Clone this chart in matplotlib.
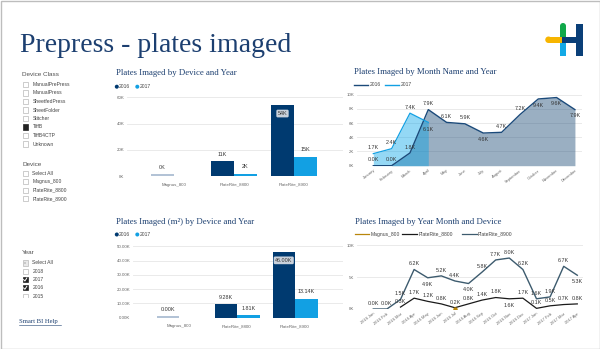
import matplotlib
matplotlib.use('Agg')
import matplotlib.pyplot as plt
from matplotlib.patches import Rectangle, Circle
import numpy as np

W, H = 600, 349

# ---------------- data ----------------
device_classes = ["ManualPrePress", "ManualPress", "SheetfedPress", "SheetFolder",
                  "Stitcher", "TiffB", "TiffB4CTP", "Unknown"]
device_slicer = ["Select All", "Magnus_800", "PlateRite_8800", "PlateRite_8900"]
year_slicer = ["Select All", "2018", "2017", "2016", "2015"]

devices = ["Magnus_800", "PlateRite_8800", "PlateRite_8900"]
plates_2016 = [0.0, 11.4, 54.0]            # thousands
plates_2017 = [0.0, 2.0, 15.0]
plates_2016_all_classes = [1.5, 11.4, 54.0]
plates_m2_2016 = [0.0, 9.28, 46.00]        # thousands m2
plates_m2_2017 = [0.0, 1.81, 13.14]
plates_m2_2016_all_classes = [1.2, 9.28, 46.00]

months = ["January", "February", "March", "April", "May", "June", "July",
          "August", "September", "October", "November", "December"]
month_2016 = [0.0, 0.0, 1.8, 7.9, 6.1, 5.9, 4.6, 4.7, 7.2, 9.4, 9.6, 7.9]
month_2017 = [1.7, 2.4, 7.4, 6.1]

year_months = ["2016 Jan", "2016 Feb", "2016 Mar", "2016 Apr", "2016 May", "2016 Jun",
               "2016 Jul", "2016 Aug", "2016 Sep", "2016 Oct", "2016 Nov", "2016 Dec",
               "2017 Jan", "2017 Feb", "2017 Mar", "2017 Apr"]
platerite_8900 = [0.0, 0.0, 1.5, 6.2, 4.9, 5.2, 4.4, 4.0, 5.8, 7.7, 8.0, 6.2, 1.6, 1.9, 6.7, 5.3]
platerite_8800 = [None, None, 0.3, 1.7, 1.2, 0.8, 0.2, 0.8, 1.4, 1.8, 1.6, 1.7, 0.1, 0.5, 0.7, 0.8]
magnus_800 = [None] * 6 + [0.0] + [None] * 9

# ---------------- style ----------------
NAVY = '#003a70'
BLUE = '#12a0e3'
FADED = '#b3c3d6'
TITLE_C = '#1c3f70'
SANS = 'Liberation Sans'
SERIF = 'Liberation Serif'
LBL = '#333333'

fig = plt.figure(figsize=(6, 3.49), dpi=100)
fig.patch.set_facecolor('white')
ov = fig.add_axes([0, 0, 1, 1])
ov.set_xlim(0, W)
ov.set_ylim(H, 0)
ov.axis('off')

def px_axes(x0, y0, x1, y1):
    return fig.add_axes([x0 / W, 1 - y1 / H, (x1 - x0) / W, (y1 - y0) / H])

def style(ax):
    for s in ax.spines.values():
        s.set_visible(False)
    ax.grid(axis='y', color='#e6e6e6', lw=0.6)
    ax.set_axisbelow(True)
    ax.tick_params(length=0, labelsize=3.2, labelcolor='#666666', pad=2)
    for t in ax.get_xticklabels() + ax.get_yticklabels():
        t.set_family(SANS)

# border
ov.add_patch(Rectangle((0.5, 0.5), W - 1, H - 1, fill=False, ec='#bdbdbd', lw=1))

# title
ov.text(20, 52.5, "Prepress - plates imaged", family=SERIF, fontsize=20,
        color=TITLE_C, va='baseline', ha='left')

# logo
ov.add_patch(Rectangle((548.5, 36.5), 14, 6.5, color='#f7b500', lw=0))
ov.add_patch(Circle((548.5, 39.75), 3.25, color='#f7b500', lw=0))
ov.add_patch(Rectangle((560, 26), 6, 11, color='#10a84a', lw=0))
ov.add_patch(Circle((563, 26), 3, color='#10a84a', lw=0))
ov.add_patch(Rectangle((560, 42.5), 6, 13, color='#12a9e6', lw=0))
ov.add_patch(Rectangle((562, 36.5), 15, 6.5, color='#0a3f78', lw=0))
ov.add_patch(Rectangle((576, 23.5), 6.5, 32, color='#0a3f78', lw=0))

# ---------------- slicers ----------------
def header(y, txt):
    ov.text(22.3, y, txt, family=SANS, fontsize=4.6, color='#505050', va='center', ha='left')

def item(y, txt, state='empty', clip=None):
    if state == 'filled':
        ov.add_patch(Rectangle((22.5, y - 2.6), 5.2, 5.2, fc='#222222', ec='#222222', lw=0.5))
    elif state == 'checked':
        ov.add_patch(Rectangle((22.5, y - 2.6), 5.2, 5.2, fc='#222222', ec='#222222', lw=0.5))
        ov.plot([23.6, 24.9, 26.8], [y, y + 1.4, y - 1.6], color='white', lw=0.7)
    elif state == 'partial':
        ov.add_patch(Rectangle((22.5, y - 2.6), 5.2, 5.2, fc='#e8e8e8', ec='#b8b8b8', lw=0.5))
        ov.add_patch(Rectangle((24.0, y - 1.1), 2.2, 2.2, fc='#c8c8c8', lw=0))
    else:
        p = Rectangle((22.5, y - 2.6), 5.2, 5.2, fc='white', ec='#b8b8b8', lw=0.5)
        ov.add_patch(p)
        if clip is not None:
            p.set_clip_path(clip)
    t = ov.text(32.5, y, txt, family=SANS, fontsize=3.6, color='#444444', va='center', ha='left')
    if clip is not None:
        t.set_clip_path(clip)

header(74, "Device Class")
for i, name in enumerate(device_classes):
    item(84.5 + i * 8.5, name, 'filled' if name == 'TiffB' else 'empty')

header(164, "Device")
for i, name in enumerate(device_slicer):
    item(173.5 + i * 8.3, name)

header(253, "Year")
year_clip = Rectangle((0, 0), 110, 297.5, transform=ov.transData)
for i, name in enumerate(year_slicer):
    st = {'Select All': 'partial', '2017': 'checked', '2016': 'checked'}.get(name, 'empty')
    item(263 + i * 8.3, name, st, clip=year_clip if name == '2015' else None)

ov.text(19, 322, "Smart BI Help", family=SERIF, fontsize=4.8, color='#1c3f70',
        va='center', ha='left')
ov.plot([19, 61], [325, 325], color='#1c3f70', lw=0.4)

# ---------------- chart titles & legends ----------------
def chart_title(x, y, txt):
    ov.text(x, y, txt, family=SERIF, fontsize=6.3, color=TITLE_C, va='center', ha='left')

def dot_legend(x, y):
    ov.add_patch(Circle((x + 1.8, y), 2.0, color=NAVY, lw=0))
    ov.text(x + 4.2, y, "2016", family=SANS, fontsize=3.6, color='#444444', va='center')
    ov.add_patch(Circle((x + 22.3, y), 2.0, color=BLUE, lw=0))
    ov.text(x + 24.7, y, "2017", family=SANS, fontsize=3.6, color='#444444', va='center')

chart_title(116, 73, "Plates Imaged by Device and Year")
dot_legend(115, 86.7)
chart_title(116, 221.7, "Plates Imaged (m²) by Device and Year")
dot_legend(115, 234.5)
chart_title(354, 72.3, "Plates Imaged by Month Name and Year")
ov.plot([354, 368], [84.7, 84.7], color='#1b4a7a', lw=1)
ov.text(369.5, 84.7, "2016", family=SANS, fontsize=3.6, color='#444444', va='center')
ov.plot([385, 399], [84.7, 84.7], color=BLUE, lw=1)
ov.text(400.5, 84.7, "2017", family=SANS, fontsize=3.6, color='#444444', va='center')
chart_title(355, 222.3, "Plates Imaged by Year Month and Device")
C_MAG, C_88, C_89 = '#b8860b', '#1a1a1a', '#3d5b6e'
for (x0, x1, tx, name, c) in [(355, 369, 370.5, "Magnus_800", C_MAG),
                              (402, 417, 419, "PlateRite_8800", C_88),
                              (462, 476.5, 478, "PlateRite_8900", C_89)]:
    ov.plot([x0, x1], [234.3, 234.3], color=c, lw=0.9)
    ov.text(tx, 234.3, name, family=SANS, fontsize=3.6, color='#444444', va='center')

# ---------------- bar charts ----------------
def bar_chart(box, centers_px, spacing, w_px, total16, v16, v17, ymax, ystep, fmt, yfmt, top_px):
    x0, y0, x1, y1 = box
    ax = px_axes(x0, y0, x1, y1)
    c0 = centers_px[0]
    ax.set_xlim((x0 - c0) / spacing, (x1 - c0) / spacing)
    ppk = (y1 - top_px) / ymax
    ax.set_ylim(0, (y1 - y0) / ppk)
    x = np.arange(len(devices))
    w = w_px / spacing
    ax.bar(x - w / 2, total16, w, color=FADED, lw=0)
    ax.bar(x - w / 2, v16, w, color=NAVY, lw=0)
    ax.bar(x + w / 2, v17, w, color=BLUE, lw=0)
    ticks = np.arange(0, ymax + 0.001, ystep)
    ax.set_yticks(ticks)
    ax.set_yticklabels([yfmt.format(t) for t in ticks])
    ax.set_xticks(x)
    ax.set_xticklabels(devices)
    style(ax)
    ax.tick_params(axis='x', pad=4.5)
    for i in range(len(devices)):
        lab = fmt.format(v16[i])
        if v16[i] > 0.6 * ymax:
            ax.annotate(lab, (x[i] - w / 2, v16[i]), xytext=(0, -6), textcoords='offset points',
                        ha='center', va='center', fontsize=3.9, family=SANS, color=LBL,
                        bbox=dict(boxstyle='round,pad=0.25', fc='#c9d1db', ec='none'))
        else:
            ax.annotate(lab, (x[i] - w / 2, total16[i]), xytext=(0, 5), textcoords='offset points',
                        ha='center', va='center', fontsize=3.9, family=SANS, color=LBL)
        if v17[i] > 0:
            ax.annotate(fmt.format(v17[i]), (x[i] + w / 2, v17[i]), xytext=(0, 5),
                        textcoords='offset points', ha='center', va='center',
                        fontsize=3.9, family=SANS, color=LBL)
    return ax

bar_chart((127, 93, 343, 176.3), [174, 234, 294], 60, 23,
          plates_2016_all_classes, plates_2016, plates_2017, 60, 20, "{:.0f}K", "{:.0f}K", 97.3)
bar_chart((133, 243, 343, 317.7), [179, 237, 295], 58, 22.5,
          plates_m2_2016_all_classes, plates_m2_2016, plates_m2_2017, 50, 10, "{:.2f}K", "{:.2f}K", 246.3)

# ---------------- month area chart ----------------
x0, y0, x1, y1 = 357, 91, 582, 165.7
ax2 = px_axes(x0, y0, x1, y1)
sp = 18.33
ax2.set_xlim((x0 - 373.3) / sp, (x1 - 373.3) / sp)
ppk = (y1 - 94.7) / 10
ax2.set_ylim(0, (y1 - y0) / ppk)
xm = np.arange(len(months))
x17 = np.arange(len(month_2017))
ax2.fill_between(xm, month_2016, color='#1f4e79', alpha=0.45, lw=0)
ax2.fill_between(x17, month_2017, color='#00a2e8', alpha=0.42, lw=0)
ax2.plot(xm, month_2016, color='#1b4a7a', lw=1.0)
ax2.plot(x17, month_2017, color=BLUE, lw=0.9)
ax2.set_yticks(np.arange(0, 10.01, 2))
ax2.set_yticklabels([f"{v:.0f}K" for v in np.arange(0, 10.01, 2)])
ax2.set_xticks(xm)
ax2.set_xticklabels(months, rotation=38, ha='right', rotation_mode='anchor')
style(ax2)
ax2.tick_params(axis='x', labelsize=2.9, pad=2)
below16 = {6, 9, 10, 11}
for i, v in enumerate(month_2016):
    dy = -4.6 if i in below16 else 4.2
    ax2.annotate(f"{v:.1f}K", (xm[i], v), xytext=(0, dy), textcoords='offset points',
                 ha='center', va='center', fontsize=3.9, family=SANS, color=LBL)
for i, v in enumerate(month_2017):
    dy = -4.8 if i == 3 else 4.2
    ax2.annotate(f"{v:.1f}K", (x17[i], v), xytext=(0, dy), textcoords='offset points',
                 ha='center', va='center', fontsize=3.9, family=SANS, color=LBL)

# ---------------- year-month line chart ----------------
x0, y0, x1, y1 = 357, 241, 583, 309
ax4 = px_axes(x0, y0, x1, y1)
sp = 13.6
ax4.set_xlim((x0 - 373.3) / sp, (x1 - 373.3) / sp)
ppk = (y1 - 245.3) / 10
ax4.set_ylim(0, (y1 - y0) / ppk)
xy = np.arange(len(year_months))
def arr(v):
    return np.array([np.nan if a is None else a for a in v], dtype=float)
p89, p88, pm = arr(platerite_8900), arr(platerite_8800), arr(magnus_800)
ax4.plot(xy, p89, color=C_89, lw=1.0)
ax4.plot(xy, p88, color=C_88, lw=0.9)
ax4.plot(xy, pm, color=C_MAG, lw=0.9, marker='o', ms=2.2)
ax4.set_yticks([0, 5, 10])
ax4.set_yticklabels(["0K", "5K", "10K"])
ax4.set_xticks(xy)
ax4.set_xticklabels(year_months, rotation=38, ha='right', rotation_mode='anchor')
style(ax4)
ax4.tick_params(axis='x', labelsize=2.9, pad=2)
below89 = {4, 7, 15}
for i, v in enumerate(p89):
    dy = -4.5 if i in below89 else 4.0
    ax4.annotate(f"{v:.1f}K", (xy[i], v), xytext=(0, dy), textcoords='offset points',
                 ha='center', va='center', fontsize=3.9, family=SANS, color=LBL)
for i, v in enumerate(p88):
    if np.isnan(v):
        continue
    dy = -4.5 if i == 10 else 4.0
    ax4.annotate(f"{v:.1f}K", (xy[i], v), xytext=(0, dy), textcoords='offset points',
                 ha='center', va='center', fontsize=3.9, family=SANS, color=LBL)

fig.savefig('out.png', dpi=100, facecolor='white')
